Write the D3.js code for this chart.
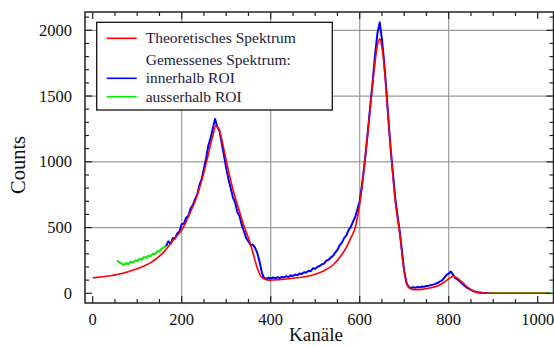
<!DOCTYPE html>
<html><head><meta charset="utf-8">
<script src="https://cdn.jsdelivr.net/npm/d3@7"></script>
<style>body{margin:0;background:#fff} svg{display:block}</style>
</head><body>
<svg id="c" width="554" height="347"></svg>
<script>
// ---- data ----
const redChannels = [0,10,20,30,40,50,60,70,80,90,100,110,120,130,140,150,160,170,180,190,200,210,220,230,240,250,260,270,277,285,290,300,310,320,330,340,350,360,370,380,390,400,420,440,460,480,500,520,540,560,570,580,590,600,610,620,630,640,645,650,655,660,670,680,690,700,710,720,740,760,780,790,800,810,818,830,840,850,860,870,880,900,950,1000,1023];
const redCounts = [118,121,125,129,134,140,147,155,164,175,187,200,215,233,255,282,315,355,400,440,480,545,620,700,800,920,1060,1200,1275,1235,1170,1010,860,730,620,510,420,310,190,120,104,100,104,110,118,128,145,172,215,295,350,420,500,680,950,1280,1620,1890,1935,1870,1730,1520,1080,700,456,165,45,28,30,42,63,85,110,130,118,85,52,27,10,3,1,0,0,0,0];

const blueStart = 165, blueStep = 5;
const blueCounts = [360,395,375,420,415,455,470,525,530,575,590,645,670,715,750,825,870,950,1030,1125,1180,1255,1325,1265,1235,1140,1050,950,870,800,730,690,620,585,520,470,420,395,365,370,345,305,240,160,118,110,118,112,120,114,122,116,124,120,130,124,136,132,142,138,150,146,160,158,172,168,190,186,200,208,220,226,248,255,272,285,310,330,365,385,420,440,480,505,545,580,640,700,820,960,1120,1290,1470,1640,1830,1980,2060,1930,1760,1540,1300,1080,900,720,590,470,320,170,80,48,40,46,42,48,45,52,50,56,58,62,66,72,78,88,98,118,140,150,165,140,115,105,90,75,60,45,35,25,18,12,8,6,4,3,2,2];

const greenLeftStart = 55, greenLeftStep = 5;
const greenLeftCounts = [250,235,225,215,230,220,240,232,250,245,262,255,275,270,285,282,300,298,320,318,340,350,360];
const greenRightStart = 890, greenRightStep = 10;
const greenRightCounts = [2,4,2,5,3,4,2,5,3,4,2,4,3,5,3];

const xTicks = [0,200,400,600,800,1000];
const yTicks = [0,500,1000,1500,2000];
const xGrid = [200,400,600,800];
const yGrid = [500,1000,1500,2000];
const xTitle = "Kanäle", yTitle = "Counts";
const legendRows = [
  {label:"Theoretisches Spektrum", color:"#ff0000"},
  {label:"Gemessenes Spektrum:", color:null},
  {label:"innerhalb ROI", color:"#0000ff"},
  {label:"ausserhalb ROI", color:"#00ee00"}
];

// ---- layout ----
const L = 85, T = 12, R = 553.5, B = 303;
const x = d3.scaleLinear().domain([-17.3, 1035.5]).range([L, R]);
const y = d3.scaleLinear().domain([-73.8, 2139]).range([B, T]);
const svg = d3.select("#c");
const serif = "'Liberation Serif','Times New Roman',serif";

svg.append("defs").append("clipPath").attr("id","clip")
  .append("rect").attr("x",L).attr("y",T).attr("width",R-L).attr("height",B-T);

// grid
svg.append("g").selectAll("line").data(xGrid).join("line")
  .attr("x1",d=>x(d)).attr("x2",d=>x(d)).attr("y1",T).attr("y2",B)
  .attr("stroke","#999").attr("stroke-width",1.2);
svg.append("g").selectAll("line").data(yGrid).join("line")
  .attr("y1",d=>y(d)).attr("y2",d=>y(d)).attr("x1",L).attr("x2",R)
  .attr("stroke","#999").attr("stroke-width",1.2);

// series
const redData = redChannels.map((c,i)=>[c, redCounts[i]]);
const blueData = blueCounts.map((v,i)=>[blueStart + i*blueStep, v]);
const greenL = greenLeftCounts.map((v,i)=>[greenLeftStart + i*greenLeftStep, v]);
const greenR = greenRightCounts.map((v,i)=>[greenRightStart + i*greenRightStep, v]);

const lineLin = d3.line().x(d=>x(d[0])).y(d=>y(d[1]));
const lineSmooth = d3.line().x(d=>x(d[0])).y(d=>y(d[1])).curve(d3.curveMonotoneX);
const gp = svg.append("g").attr("clip-path","url(#clip)");
gp.append("path").attr("d",lineLin(greenL)).attr("fill","none").attr("stroke","#00ee00").attr("stroke-width",2).attr("stroke-linejoin","round");
gp.append("path").attr("d",lineLin(greenR)).attr("fill","none").attr("stroke","#00ee00").attr("stroke-width",1.5);
gp.append("path").attr("d",lineLin(blueData)).attr("fill","none").attr("stroke","#0000ff").attr("stroke-width",2).attr("stroke-linejoin","round");
gp.append("path").attr("d",lineSmooth(redData)).attr("fill","none").attr("stroke","#ff0000").attr("stroke-width",1.6);

// axes: ticks inward on all four sides
const xMinor = d3.range(0, 1001, 50);
const yMinor = d3.range(0, 2101, 100);
const tk = svg.append("g").attr("stroke","#222").attr("stroke-width",1.2);
xMinor.forEach(v=>{
  const len = (v % 200 === 0) ? 7 : 4;
  tk.append("line").attr("x1",x(v)).attr("x2",x(v)).attr("y1",B).attr("y2",B-len);
  tk.append("line").attr("x1",x(v)).attr("x2",x(v)).attr("y1",T).attr("y2",T+len);
});
yMinor.forEach(v=>{
  const len = (v % 500 === 0) ? 7 : 4;
  tk.append("line").attr("y1",y(v)).attr("y2",y(v)).attr("x1",L).attr("x2",L+len);
  tk.append("line").attr("y1",y(v)).attr("y2",y(v)).attr("x1",R).attr("x2",R-len);
});
svg.append("rect").attr("x",L).attr("y",T).attr("width",R-L).attr("height",B-T)
  .attr("fill","none").attr("stroke","#222").attr("stroke-width",1.5);

// tick labels
svg.append("g").selectAll("text").data(xTicks).join("text")
  .attr("x",d=>x(d)).attr("y",325).attr("text-anchor","middle")
  .attr("font-family",serif).attr("font-size",16.5).attr("fill","#111").text(d=>d);
svg.append("g").selectAll("text").data(yTicks).join("text")
  .attr("x",72).attr("y",d=>y(d)).attr("dy","0.34em").attr("text-anchor","end")
  .attr("font-family",serif).attr("font-size",16.5).attr("fill","#111").text(d=>d);

// titles
svg.append("text").attr("x",316).attr("y",341).attr("text-anchor","middle")
  .attr("font-family",serif).attr("font-size",19).attr("fill","#111").text(xTitle);
svg.append("text").attr("transform","translate(25,165) rotate(-90)").attr("text-anchor","middle")
  .attr("font-family",serif).attr("font-size",20.5).attr("fill","#111").text(yTitle);

// legend
const lg = svg.append("g");
lg.append("rect").attr("x",96.7).attr("y",22.3).attr("width",235.6).attr("height",87.7)
  .attr("fill","#fff").attr("stroke","#111").attr("stroke-width",1.3);
const rowY = [38.3, 60, 78.3, 96.7];
legendRows.forEach((r,i)=>{
  if (r.color) lg.append("line").attr("x1",106.7).attr("x2",136.7).attr("y1",rowY[i]).attr("y2",rowY[i])
    .attr("stroke",r.color).attr("stroke-width",1.6);
  lg.append("text").attr("x",145.7).attr("y",rowY[i]).attr("dy","0.33em")
    .attr("font-family",serif).attr("font-size",15.5).attr("fill","#1a1a3a").text(r.label);
});
</script>
</body></html>
